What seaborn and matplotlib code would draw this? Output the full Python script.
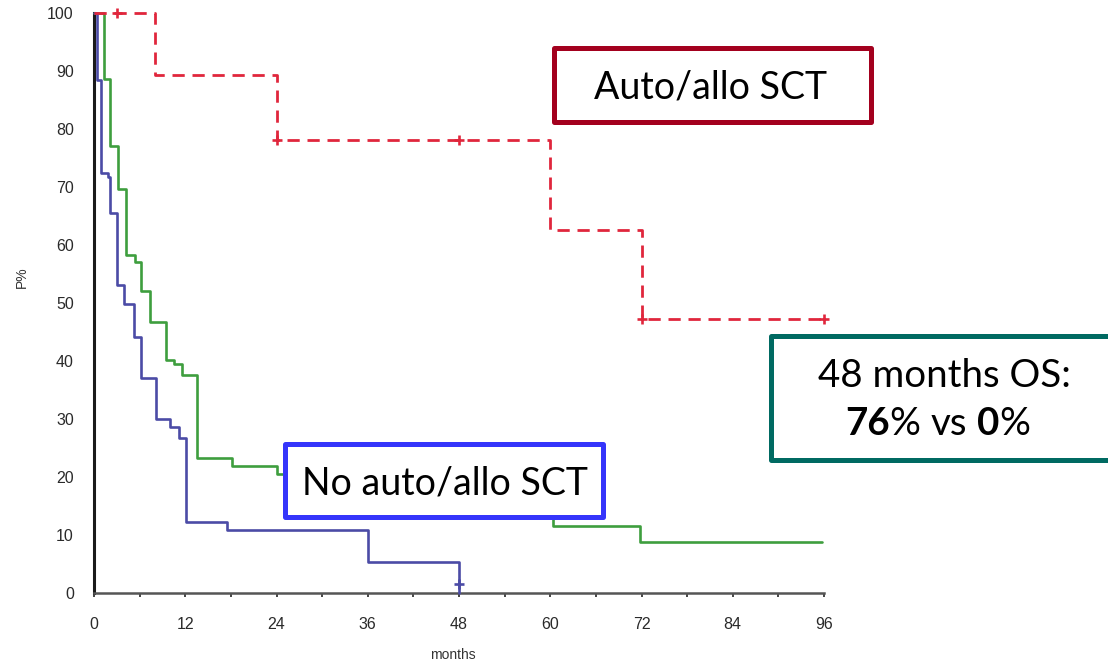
import matplotlib
matplotlib.use("Agg")
import matplotlib.pyplot as plt
import numpy as np
import pandas as pd
import seaborn as sns
from matplotlib.patches import Rectangle

# Kaplan-Meier overall survival, step data (months, survival %)
sct_months = [0, 8, 24, 60, 72, 96.5]
sct_surv = [100, 89.3, 78.1, 62.6, 47.2, 47.2]
sct_cens_months = [3, 24, 48, 72, 96]
sct_cens_surv = [100, 78.1, 78.1, 47.2, 47.2]

overall_months = [0, 1.3, 2.1, 3.1, 4.2, 5.4, 6.2, 7.3, 9.5, 10.5, 11.6, 13.5,
                  18.2, 24.1, 60.4, 71.8, 95.7]
overall_surv = [100, 88.6, 77.1, 69.7, 58.2, 57.1, 52.0, 46.8, 40.2, 39.4, 37.6,
                23.2, 21.9, 20.5, 11.6, 8.8, 8.8]

no_sct_months = [0, 0.4, 0.9, 1.9, 2.1, 3.0, 4.0, 5.2, 6.2, 8.1, 10.0, 11.2,
                 12.1, 17.5, 36.0, 48.0]
no_sct_surv = [100, 88.4, 72.4, 71.8, 65.5, 53.1, 49.8, 44.2, 37.0, 30.0, 28.7,
               26.7, 12.3, 10.9, 5.4, 0]
no_sct_cens_months = [48]
no_sct_cens_surv = [1.5]

x_ticks = [0, 12, 24, 36, 48, 60, 72, 84, 96]
y_ticks = [0, 10, 20, 30, 40, 50, 60, 70, 80, 90, 100]

W, H = 1108, 662
def fx(px):
    return px / W
def fy(py):
    return 1 - py / H

sns.set_theme(style="white")
plt.rcParams["font.family"] = ["Liberation Sans", "DejaVu Sans"]

fig = plt.figure(figsize=(W / 100, H / 100), dpi=100)
ax = fig.add_axes([fx(94), fy(593), (824 - 94) / W, (593 - 13) / H])

red = "#e0263c"
green = "#3e9e3e"
navy = "#4b4ba6"

sct = pd.DataFrame({"months": sct_months, "surv": sct_surv})
overall = pd.DataFrame({"months": overall_months, "surv": overall_surv})
no_sct = pd.DataFrame({"months": no_sct_months, "surv": no_sct_surv})

sns.lineplot(data=overall, x="months", y="surv", ax=ax, estimator=None, sort=False,
             drawstyle="steps-post", color=green, linewidth=1.9, clip_on=False,
             zorder=3)
sns.lineplot(data=no_sct, x="months", y="surv", ax=ax, estimator=None, sort=False,
             drawstyle="steps-post", color=navy, linewidth=1.9, clip_on=False,
             zorder=3)
sns.lineplot(data=sct, x="months", y="surv", ax=ax, estimator=None, sort=False,
             drawstyle="steps-post", color=red, linewidth=2.0,
             linestyle=(0, (4.4, 2.8)), dash_capstyle="butt", clip_on=False,
             zorder=4)

# censoring ticks
sns.scatterplot(x=sct_cens_months, y=sct_cens_surv, ax=ax, marker="+", s=60,
                color=red, linewidth=1.9, clip_on=False, zorder=5)
sns.scatterplot(x=no_sct_cens_months, y=no_sct_cens_surv, ax=ax, marker="+", s=60,
                color=navy, linewidth=1.9, clip_on=False, zorder=5)

ax.set_xlim(0, 96)
ax.set_ylim(0, 100)
ax.set_xticks(x_ticks)
ax.set_xticks(np.arange(0, 97, 6), minor=True)
ax.set_yticks(y_ticks)
ax.set_xlabel("")
ax.set_ylabel("")
ax.tick_params(axis="x", which="both", direction="out", length=3, width=1.4,
               color="#444444", bottom=True, pad=14, labelsize=11.5,
               labelcolor="#2a2a2a")
ax.tick_params(axis="y", length=0, pad=14.5, labelsize=11.5, labelcolor="#2a2a2a")
for side in ("top", "right"):
    ax.spines[side].set_visible(False)
ax.spines["left"].set_color("#1a1a1a")
ax.spines["left"].set_linewidth(2.2)
ax.spines["bottom"].set_color("#555555")
ax.spines["bottom"].set_linewidth(1.8)
ax.grid(False)

fig.text(fx(22), fy(277), "P%", rotation=90, ha="center", va="center",
         fontsize=10, color="#333333")
fig.text(fx(453), fy(655), "months", ha="center", va="center", fontsize=10,
         color="#333333")

# annotation boxes
box_font = "Lato"
box_size = 27
os_size = 27.7

def frame(x0, y0, x1, y1, color):
    fig.add_artist(Rectangle((fx(x0), fy(y1)), (x1 - x0) / W, (y1 - y0) / H,
                             transform=fig.transFigure, fill=True,
                             facecolor="white", edgecolor=color, linewidth=3.6,
                             joinstyle="round", zorder=10))

frame(554, 47.5, 870.5, 122, "#a3001e")
fig.text(fx(711), fy(98.3), "Auto/allo SCT", ha="center", va="baseline",
         family=box_font, fontsize=box_size, color="black", zorder=11)

frame(285, 443.5, 602.5, 516.5, "#3535fb")
fig.text(fx(445), fy(495), "No auto/allo SCT", ha="center", va="baseline",
         family=box_font, fontsize=box_size, color="black", zorder=11)

frame(771, 336, 1125, 459.5, "#006a62")
fig.text(fx(944.5), fy(386.7), "48 months OS:", ha="center", va="baseline",
         family=box_font, fontsize=os_size, color="black", zorder=11)

# second line with bold figures, laid out piece by piece
renderer = fig.canvas.get_renderer()
def measure(s, weight):
    t = fig.text(0, 0, s, family=box_font, fontsize=os_size, fontweight=weight)
    w = t.get_window_extent(renderer).width
    t.remove()
    return w

space = measure("x x", "normal") - measure("xx", "normal")
pieces = [("76", "bold"), ("%", "normal"), (" ", None), ("vs", "normal"),
          (" ", None), ("0", "bold"), ("%", "normal")]
widths = [space if w is None else measure(s, w) for s, w in pieces]
x = 937.5 - sum(widths) / 2
for (s, w), wd in zip(pieces, widths):
    if w is not None:
        fig.text(fx(x), fy(435), s, ha="left", va="baseline", family=box_font,
                 fontsize=os_size, fontweight=w, color="black", zorder=11)
    x += wd

fig.savefig("out.png", dpi=100)
